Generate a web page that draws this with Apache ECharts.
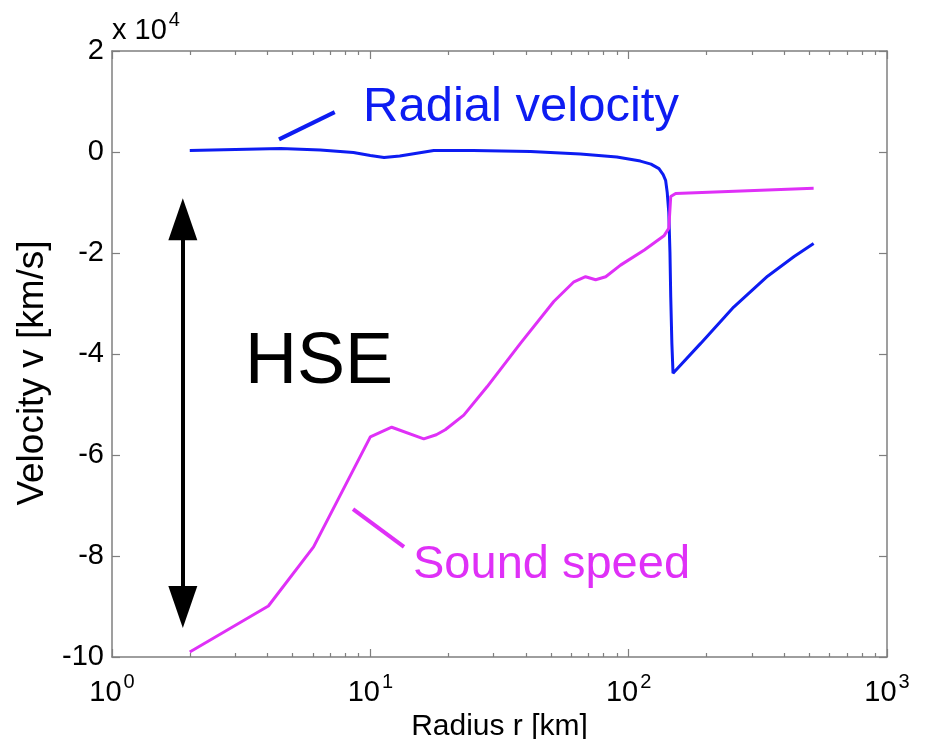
<!DOCTYPE html>
<html>
<head>
<meta charset="utf-8">
<script src="https://cdn.jsdelivr.net/npm/echarts@6/dist/echarts.min.js"></script>
<style>
  html, body { margin: 0; padding: 0; background: #fff; }
  #chart { width: 925px; height: 739px; }
</style>
</head>
<body>
<div id="chart"></div>
<script>
// radius r [km]
const radialR = [2, 3, 4.5, 6.4, 8.6, 10, 11.3, 13, 17.6, 25, 41.7, 65, 90, 111, 122, 131, 136, 139, 141, 143, 144.5, 145.5, 147, 148.5, 190, 255, 345, 437, 520]
// radial velocity [x 10^4 km/s]
const radialV = [0.03, 0.05, 0.07, 0.04, -0.01, -0.07, -0.11, -0.08, 0.03, 0.03, 0.01, -0.04, -0.1, -0.18, -0.24, -0.33, -0.45, -0.56, -0.8, -1.2, -2.0, -2.87, -3.8, -4.38, -3.79, -3.07, -2.46, -2.07, -1.81]

const soundR = [2, 4.03, 6.03, 10, 12.1, 16.1, 18, 19.5, 23, 28.3, 38.1, 51.3, 61.4, 68.1, 74.5, 81.5, 93, 115, 137, 143, 145.5, 152, 520]
const soundV = [-9.9, -8.99, -7.82, -5.64, -5.45, -5.68, -5.6, -5.5, -5.21, -4.65, -3.79, -2.96, -2.57, -2.47, -2.53, -2.47, -2.24, -1.94, -1.66, -1.51, -0.88, -0.82, -0.72]

const majorTicksX = [1, 10, 100, 1000]
const minorTicksX = [2, 3, 4, 5, 6, 7, 8, 9, 20, 30, 40, 50, 60, 70, 80, 90, 200, 300, 400, 500, 600, 700, 800, 900]

const blue = '#0d1cf2'
const magenta = '#df30f7'
const axisGray = '#7f7f7f'
const font = '"Liberation Sans", Arial, Helvetica, sans-serif'

const zip = (xs, ys) => xs.map((x, i) => [x, ys[i]])

const chart = echarts.init(document.getElementById('chart'))

const xAxisOf = (position, ticks, len, showLine) => ({
	type: 'log',
	logBase: 10,
	min: 1,
	max: 1000,
	position: position,
	splitLine: { show: false },
	axisLine: { show: showLine, onZero: false, lineStyle: { color: axisGray, width: 1.5 } },
	axisTick: { show: true, inside: true, length: len, customValues: ticks, lineStyle: { color: axisGray, width: 1.2 } },
	axisLabel: { show: false }
})

const xMain = xAxisOf('bottom', majorTicksX, 8, true)
xMain.name = 'Radius r [km]'
xMain.nameLocation = 'middle'
xMain.nameGap = 53
xMain.nameTextStyle = { color: '#000', fontSize: 30, fontFamily: font }
xMain.axisLabel = {
	show: true,
	margin: 15,
	formatter: v => '{b|10}{s|' + Math.round(Math.log10(v)) + '}',
	rich: {
		b: { fontSize: 29, fontFamily: font, color: '#000', verticalAlign: 'bottom' },
		s: { fontSize: 20, fontFamily: font, color: '#000', verticalAlign: 'bottom', padding: [0, 0, 15, 2] }
	}
}

const yAxisOf = (position) => ({
	type: 'value',
	position: position,
	min: -10,
	max: 2,
	interval: 2,
	splitLine: { show: false },
	axisLine: { show: true, onZero: false, lineStyle: { color: axisGray, width: 1.5 } },
	axisTick: { show: true, inside: true, length: 8, lineStyle: { color: axisGray, width: 1.2 } },
	axisLabel: { show: false }
})

const yMain = yAxisOf('left')
yMain.name = 'Velocity v [km/s]'
yMain.nameLocation = 'middle'
yMain.nameGap = 47
yMain.nameTextStyle = { color: '#000', fontSize: 37, fontFamily: font, padding: [0, 38, 0, 0] }
yMain.axisLabel = { show: true, margin: 8, color: '#000', fontSize: 29, fontFamily: font }

const option = {
	backgroundColor: '#fff',
	animation: false,
	grid: { left: 112, right: 38, top: 51, bottom: 82, containLabel: false, outerBoundsMode: 'none' },
	xAxis: [
		xMain,
		xAxisOf('bottom', minorTicksX, 4, false),
		xAxisOf('top', majorTicksX, 8, true),
		xAxisOf('top', minorTicksX, 4, false)
	],
	yAxis: [yMain, yAxisOf('right')],
	graphic: [
		{
			type: 'text',
			left: 112,
			top: 10,
			style: {
				text: '{b|x 10}{s|4}',
				rich: {
					b: { fontSize: 29, fontFamily: font, fill: '#000', verticalAlign: 'bottom' },
					s: { fontSize: 20, fontFamily: font, fill: '#000', verticalAlign: 'bottom', padding: [0, 0, 15, 2] }
				}
			}
		},
		{
			type: 'text',
			style: { x: 363, y: 107, text: 'Radial velocity', fill: blue, font: '49px ' + font, verticalAlign: 'middle' }
		},
		{
			type: 'text',
			style: { x: 413, y: 565, text: 'Sound speed', fill: magenta, font: '47px ' + font, verticalAlign: 'middle' }
		},
		{
			type: 'text',
			style: { x: 245, y: 363, text: 'HSE', fill: '#000', font: '72px ' + font, verticalAlign: 'middle' }
		}
	],
	series: [
		{
			name: 'Radial velocity',
			type: 'line',
			xAxisIndex: 0,
			yAxisIndex: 0,
			showSymbol: false,
			lineStyle: { color: blue, width: 3 },
			data: zip(radialR, radialV),
			markLine: {
				silent: true,
				symbol: 'none',
				label: { show: false },
				lineStyle: { color: blue, width: 4, type: 'solid' },
				data: [[{ coord: [4.43, 0.25] }, { coord: [7.28, 0.79] }]]
			}
		},
		{
			name: 'Sound speed',
			type: 'line',
			xAxisIndex: 0,
			yAxisIndex: 0,
			showSymbol: false,
			lineStyle: { color: magenta, width: 3 },
			data: zip(soundR, soundV),
			markLine: {
				silent: true,
				symbol: 'none',
				label: { show: false },
				lineStyle: { color: magenta, width: 4, type: 'solid' },
				data: [[{ coord: [8.57, -7.07] }, { coord: [13.5, -7.82] }]]
			}
		},
		{
			name: 'HSE',
			type: 'line',
			xAxisIndex: 0,
			yAxisIndex: 0,
			data: [],
			markLine: {
				silent: true,
				symbol: ['triangle', 'triangle'],
				symbolSize: [29, 42],
				label: { show: false },
				lineStyle: { color: '#000', width: 4, type: 'solid' },
				itemStyle: { color: '#000' },
				data: [[{ coord: [1.88, -1.33] }, { coord: [1.88, -9.01] }]]
			}
		}
	]
}

chart.setOption(option)
</script>
</body>
</html>
